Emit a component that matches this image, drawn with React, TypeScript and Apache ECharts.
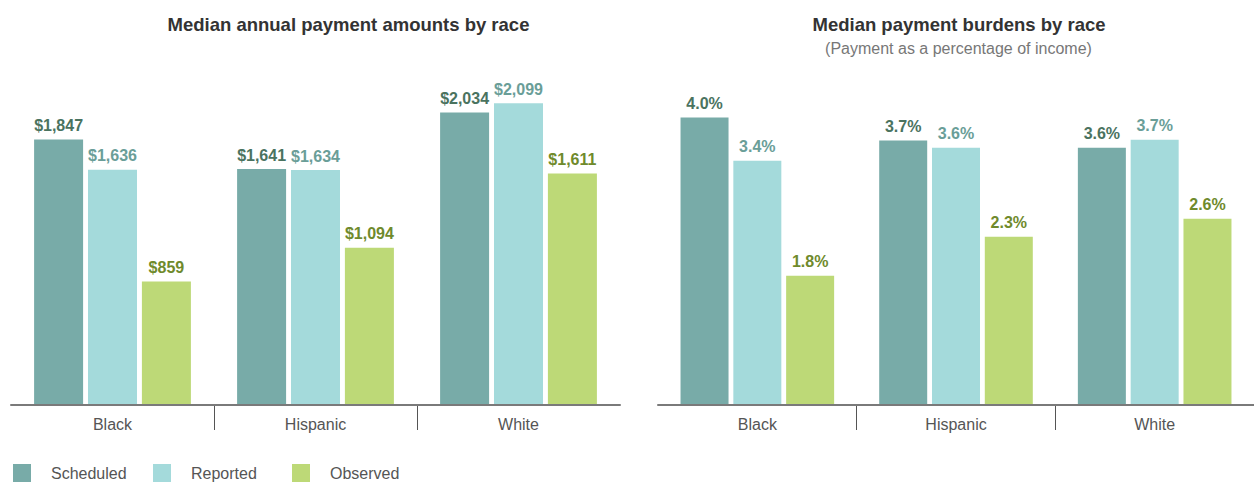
import React, { useEffect, useRef } from "react";
import * as echarts from "echarts";

const categories = ["Black", "Hispanic", "White"];
const seriesNames = ["Scheduled", "Reported", "Observed"];

// Median annual payment amounts ($)
const amountScheduled = [1847, 1641, 2034];
const amountReported = [1636, 1634, 2099];
const amountObserved = [859, 1094, 1611];

// Median payment burdens (% of income)
const burdenScheduled = [4.0, 3.68, 3.58];
const burdenReported = [3.4, 3.58, 3.69];
const burdenObserved = [1.8, 2.34, 2.59];

const barColors = ["#78aba8", "#a4dadb", "#bdd977"];
const labelColors = ["#4a735f", "#6a9e98", "#6f8a2c"];

const FONT = "'Liberation Sans', Arial, sans-serif";

export default function App() {
  const ref = useRef<HTMLDivElement>(null);

  useEffect(() => {
    document.body.style.margin = "0";
    if (!ref.current) return;
    const chart = echarts.init(ref.current, null, { renderer: "svg" });

    const fmtDollar = (v: number) => "$" + v.toLocaleString("en-US");
    const fmtPct = (v: number) => v.toFixed(1) + "%";

    const mkSeries = (
      data: number[][],
      axisIndex: number,
      barWidth: number,
      fmt: (v: number) => string
    ) =>
      data.map((d, i) => ({
        name: seriesNames[i],
        type: "bar",
        xAxisIndex: axisIndex,
        yAxisIndex: axisIndex,
        data: d,
        barWidth,
        barGap: "10%",
        itemStyle: { color: barColors[i] },
        label: {
          show: true,
          position: "top",
          distance: 6,
          formatter: (p: any) => fmt(p.value),
          color: labelColors[i],
          fontFamily: FONT,
          fontWeight: "bold",
          fontSize: 16,
        },
      }));

    const xAxisMain = (gridIndex: number) => ({
      type: "category",
      gridIndex,
      position: "bottom",
      data: categories,
      z: 10,
      axisLine: { show: true, lineStyle: { color: "#7a7a7a", width: 2 } },
      axisTick: { show: false },
      axisLabel: {
        color: "#555",
        fontFamily: FONT,
        fontSize: 16,
        margin: 11,
      },
    });

    // Divider ticks between categories (boundaries of the three bands)
    const xAxisDividers = (gridIndex: number) => ({
      type: "category",
      gridIndex,
      position: "bottom",
      boundaryGap: false,
      data: ["", "", "", ""],
      z: 9,
      axisLine: { show: false },
      axisLabel: { show: false },
      axisTick: {
        show: true,
        interval: (i: number) => i === 1 || i === 2,
        length: 25,
        lineStyle: { color: "#555", width: 1 },
      },
    });

    const legends = seriesNames.map((n, i) => ({
      data: [n],
      left: [13, 153, 292][i],
      top: 464,
      padding: 0,
      itemWidth: 18,
      itemHeight: 18,
      icon: "rect",
      textStyle: {
        color: "#555",
        fontFamily: FONT,
        fontSize: 16,
        padding: [0, 0, 0, 15],
      },
    }));

    chart.setOption({
      animation: false,
      backgroundColor: "#ffffff",
      color: barColors,
      legend: legends,
      graphic: [
        {
          type: "text",
          x: 348.5,
          y: 24,
          style: {
            text: "Median annual payment amounts by race",
            align: "center",
            verticalAlign: "middle",
            fill: "#333",
            font: `bold 18.5px ${FONT}`,
          },
        },
        {
          type: "text",
          x: 959,
          y: 24,
          style: {
            text: "Median payment burdens by race",
            align: "center",
            verticalAlign: "middle",
            fill: "#333",
            font: `bold 18.5px ${FONT}`,
          },
        },
        {
          type: "text",
          x: 958.5,
          y: 48,
          style: {
            text: "(Payment as a percentage of income)",
            align: "center",
            verticalAlign: "middle",
            fill: "#777",
            font: `16px ${FONT}`,
          },
        },
      ],
      grid: [
        { left: 11, right: 634, top: 60, bottom: 77 },
        { left: 658, right: -4, top: 60, bottom: 77 },
      ],
      xAxis: [xAxisMain(0), xAxisMain(1), xAxisDividers(0), xAxisDividers(1)],
      yAxis: [
        { type: "value", gridIndex: 0, min: 0, max: 2400, show: false, splitLine: { show: false } },
        { type: "value", gridIndex: 1, min: 0, max: 4.8, show: false, splitLine: { show: false } },
      ],
      series: [
        ...mkSeries([amountScheduled, amountReported, amountObserved], 0, 49, fmtDollar),
        ...mkSeries([burdenScheduled, burdenReported, burdenObserved], 1, 48, fmtPct),
      ],
    });

    return () => chart.dispose();
  }, []);

  return <div ref={ref} style={{ width: 1254, height: 482 }} />;
}
